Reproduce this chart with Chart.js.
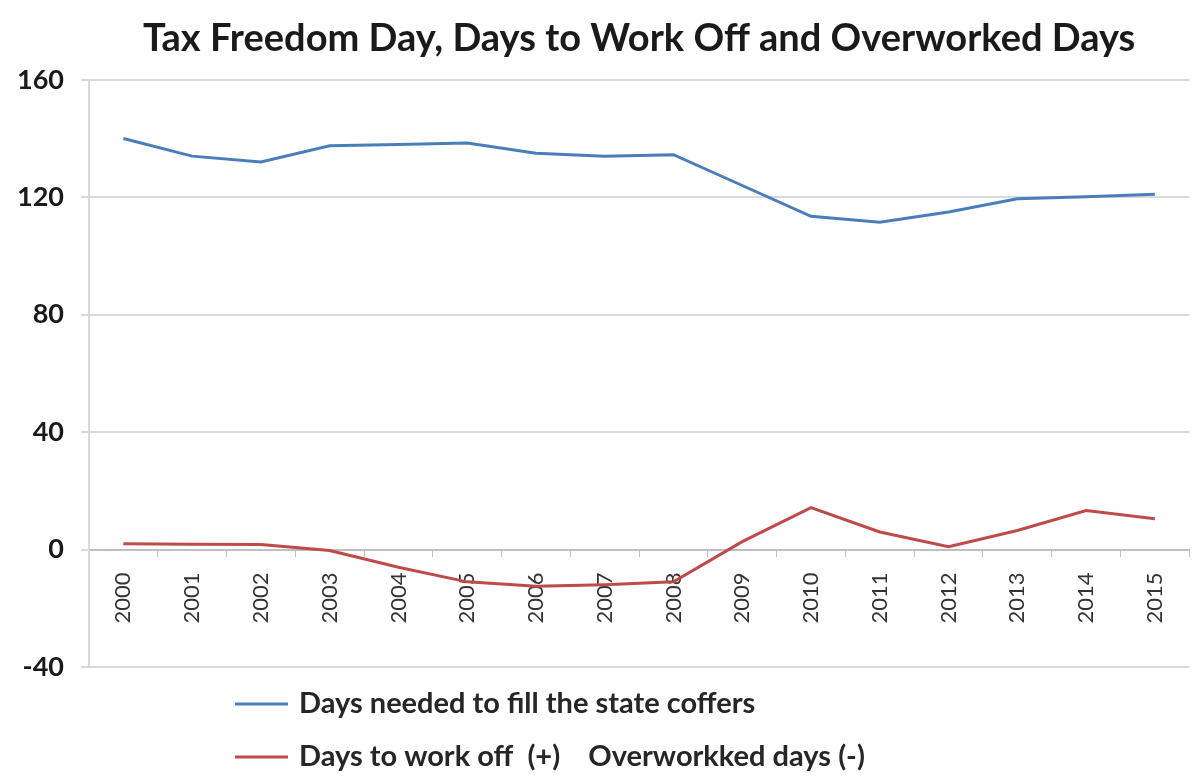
<!DOCTYPE html>
<html>
<head>
<meta charset="utf-8">
<script src="https://cdn.jsdelivr.net/npm/chart.js@4"></script>
<style>
    html, body { margin: 0; padding: 0; background: #fff; }
    #wrap { width: 1194px; height: 781px; position: relative; }
</style>
</head>
<body>
<div id="wrap"><canvas id="chart"></canvas></div>
<script>
const years = ['2000', '2001', '2002', '2003', '2004', '2005', '2006', '2007',
    '2008', '2009', '2010', '2011', '2012', '2013', '2014', '2015'];
const coffersDays = [140, 134, 132, 137.5, 138, 138.5, 135, 134,
    134.5, 124, 113.5, 111.5, 115, 119.5, 120.2, 121];
const workOffDays = [2, 1.8, 1.7, -0.3, -6, -11, -12.5, -12,
    -11, 2.7, 14.3, 6, 1, 6.5, 13.3, 10.5];
const yTicks = [-40, 0, 40, 80, 120, 160];

const seriesNames = ['Days needed to fill the state coffers', 'Days to work off  (+)    Overworkked days (-)'];
const blue = '#4a7ebb';
const red = '#be4b48';

// legend stacked under the plot, left aligned like the excel original
const stackedLegend = {
    id: 'stackedLegend',
    afterDraw(chart) {
        const ctx = chart.ctx;
        const left = 235;
        const rows = [704, 757];
        ctx.save();
        chart.data.datasets.forEach((ds, i) => {
            const y = rows[i];
            ctx.strokeStyle = ds.borderColor;
            ctx.lineWidth = 3;
            ctx.beginPath();
            ctx.moveTo(left, y);
            ctx.lineTo(left + 53, y);
            ctx.stroke();
            ctx.fillStyle = '#262626';
            ctx.font = 'bold 29px Lato';
            ctx.textBaseline = 'middle';
            ctx.textAlign = 'left';
            ctx.fillText(ds.label, left + 64, y);
        });
        ctx.restore();
    }
};

const config = {
    type: 'line',
    data: {
        labels: years,
        datasets: [
            {
                label: seriesNames[0],
                data: coffersDays,
                borderColor: blue,
                backgroundColor: blue,
                borderWidth: 3,
                pointRadius: 0,
                tension: 0
            },
            {
                label: seriesNames[1],
                data: workOffDays,
                borderColor: red,
                backgroundColor: red,
                borderWidth: 3,
                pointRadius: 0,
                tension: 0
            }
        ]
    },
    options: {
        responsive: true,
        maintainAspectRatio: false,
        animation: false,
        layout: {
            padding: {top: 0, right: -20, bottom: 114, left: 0}
        },
        plugins: {
            legend: {display: false},
            tooltip: {enabled: false},
            title: {
                display: true,
                text: 'Tax Freedom Day, Days to Work Off and Overworked Days',
                color: '#1a1a1a',
                font: {family: 'Lato', size: 38, weight: 'bold', lineHeight: 1.1},
                padding: {top: 18, bottom: 20},
                fullSize: false
            }
        },
        scales: {
            x: {
                type: 'category',
                position: {y: 0},
                offset: true,
                grid: {
                    display: true,
                    offset: true,
                    drawOnChartArea: false,
                    drawTicks: true,
                    tickLength: 6,
                    color: '#bfbfbf'
                },
                border: {display: true, color: '#bfbfbf', width: 2},
                ticks: {
                    minRotation: 90,
                    maxRotation: 90,
                    autoSkip: false,
                    padding: 17,
                    color: '#333333',
                    font: {family: 'Lato', size: 22, lineHeight: 1}
                }
            },
            y: {
                min: -40,
                max: 160,
                afterBuildTicks(axis) {
                    axis.ticks = yTicks.map(v => ({value: v}));
                },
                grid: {
                    color: '#d9d9d9',
                    lineWidth: 2,
                    tickLength: 8,
                    drawTicks: true
                },
                border: {display: true, color: '#d9d9d9', width: 2},
                ticks: {
                    padding: 17,
                    color: '#1a1a1a',
                    font: {family: 'Lato', size: 27, weight: 'bold'}
                }
            }
        }
    },
    plugins: [stackedLegend]
};

new Chart(document.getElementById('chart').getContext('2d'), config);
</script>
</body>
</html>
